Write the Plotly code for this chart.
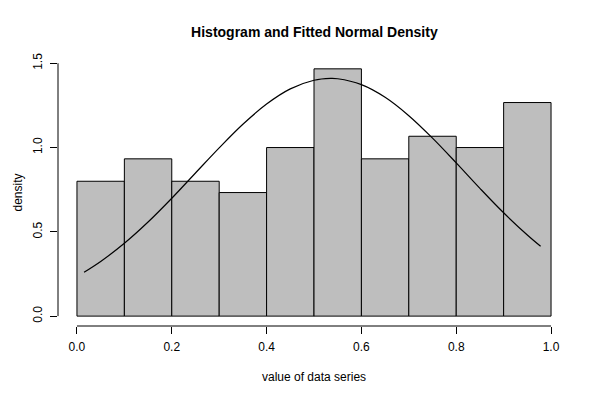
import plotly.graph_objects as go

# Histogram data (bin edges and densities)
bin_left = [0.0, 0.1, 0.2, 0.3, 0.4, 0.5, 0.6, 0.7, 0.8, 0.9]
bin_width = 0.1
densities = [0.800, 0.933, 0.800, 0.733, 1.000, 1.467, 0.933, 1.067, 1.000, 1.267]

# Fitted normal density curve
curve_x = [0.015, 0.05, 0.10, 0.15, 0.20, 0.25, 0.30, 0.35, 0.40, 0.45, 0.50, 0.535,
           0.55, 0.60, 0.65, 0.70, 0.75, 0.80, 0.85, 0.90, 0.95, 0.978]
curve_y = [0.260, 0.324, 0.432, 0.558, 0.699, 0.849, 0.998, 1.138, 1.258, 1.348, 1.399, 1.410,
           1.408, 1.373, 1.298, 1.189, 1.056, 0.909, 0.758, 0.613, 0.481, 0.414]

x_ticks = [0.0, 0.2, 0.4, 0.6, 0.8, 1.0]
x_ticklabels = ["0.0", "0.2", "0.4", "0.6", "0.8", "1.0"]
y_ticks = [0.0, 0.5, 1.0, 1.5]
y_ticklabels = ["0.0", "0.5", "1.0", "1.5"]

FONT = "Liberation Sans, Arial, Helvetica, sans-serif"

fig = go.Figure()
fig.add_trace(go.Bar(
    x=[b + bin_width / 2 for b in bin_left],
    y=densities,
    width=bin_width,
    marker=dict(color="#BEBEBE", line=dict(color="black", width=1)),
    hoverinfo="skip",
))
fig.add_trace(go.Scatter(
    x=curve_x, y=curve_y, mode="lines",
    line=dict(color="black", width=1.2, shape="spline"),
    hoverinfo="skip",
))

# R-style axis lines spanning only the tick range
fig.add_shape(type="line", xref="x", yref="paper", x0=x_ticks[0], x1=x_ticks[-1], y0=0, y1=0,
              line=dict(color="black", width=1))
fig.add_shape(type="line", xref="paper", yref="y", x0=0, x1=0, y0=y_ticks[0], y1=y_ticks[-1],
              line=dict(color="black", width=1))

fig.update_layout(
    template="none",
    width=600, height=400,
    margin=dict(l=58, r=30, t=59, b=74),
    paper_bgcolor="white", plot_bgcolor="white",
    showlegend=False,
    bargap=0,
    font=dict(family=FONT, size=12, color="black"),
    title=dict(text="<b>Histogram and Fitted Normal Density</b>",
               x=0.524, xanchor="center", xref="container",
               y=1 - 32 / 400, yanchor="middle", yref="container",
               font=dict(family=FONT, size=14, color="black")),
    xaxis=dict(range=[-0.04, 1.04], showgrid=False, zeroline=False, showline=False,
               automargin=False,
               tickvals=x_ticks, ticktext=x_ticklabels, ticks="outside", ticklen=7,
               tickcolor="black", tickwidth=1, ticklabelstandoff=3,
               tickfont=dict(size=12, color="black")),
    yaxis=dict(range=[-0.0587, 1.5253], showgrid=False, zeroline=False, showline=False,
               automargin=False,
               tickvals=y_ticks, ticktext=y_ticklabels, ticks="outside", ticklen=7,
               tickcolor="black", tickwidth=1, tickangle=-90, ticklabelstandoff=3,
               tickfont=dict(size=12, color="black")),
    annotations=[
        dict(text="value of data series", xref="paper", yref="paper",
             x=0.5, y=-51 / 267, xanchor="center", yanchor="middle",
             showarrow=False, font=dict(size=12, color="black")),
        dict(text="density", xref="paper", yref="paper",
             x=-41 / 512, y=0.5, xanchor="center", yanchor="middle",
             textangle=-90, showarrow=False, font=dict(size=12, color="black")),
    ],
)

fig.write_html("out.html",
               config={"displayModeBar": False, "staticPlot": True},
               post_script="document.body.style.margin='0';document.body.style.padding='0';")
